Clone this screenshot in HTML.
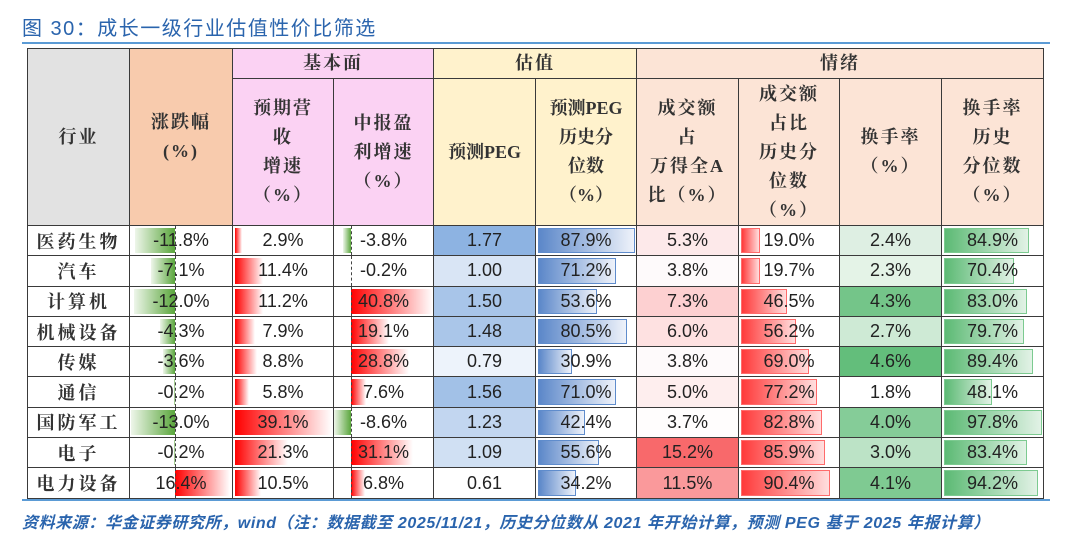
<!DOCTYPE html>
<html><head><meta charset="utf-8">
<style>
body{margin:0;width:1080px;height:551px;background:#fff;position:relative;overflow:hidden;font-family:"Liberation Sans","Noto Sans CJK SC",sans-serif;}
.title{position:absolute;left:22px;top:12px;font-size:20px;color:#2a64ad;font-family:"Liberation Sans","Noto Sans CJK SC",sans-serif;letter-spacing:1.5px;}
.hl{position:absolute;left:22px;width:1028px;height:2px;background:#5b9bd5;}
table{position:absolute;left:27px;top:48px;border-collapse:collapse;table-layout:fixed;}
td{border:1px solid #3a3a3a;padding:0;text-align:center;vertical-align:middle;position:relative;color:#222;}
.h{font-family:"Liberation Serif","Noto Serif CJK SC",serif;font-size:18px;font-weight:bold;line-height:29px;letter-spacing:2px;color:#333;}
.r td{height:29.3px;font-size:18px;}
.n{font-family:"Liberation Serif","Noto Serif CJK SC",serif;font-size:18px;font-weight:bold;letter-spacing:3px;color:#333;}
.b{position:absolute;top:2px;bottom:2px;}
.g{background:linear-gradient(to right,#eef6ea,#5aa63c);}
.rd{background:linear-gradient(to right,#ff0000,#fff);}
.bl{background:linear-gradient(to right,#5b87c9,#eef2fa);border:1px solid #5f8ccc;box-sizing:border-box;}
.rr{background:linear-gradient(to right,#ff3a3a,#ffdede);border:1px solid #ff6b6b;box-sizing:border-box;}
.gg{background:linear-gradient(to right,#5cba74,#e2f2e6);border:1px solid #7cca90;box-sizing:border-box;}
.ax{position:absolute;top:0;bottom:0;border-left:1px dashed #444;}
.t{position:relative;}
.foot{position:absolute;left:22px;top:509px;width:1040px;white-space:nowrap;overflow:hidden;font-size:16px;font-weight:bold;font-style:italic;letter-spacing:0.6px;color:#2a64ad;}
</style></head><body>
<div class="title">图 30：成长一级行业估值性价比筛选</div>
<div class="hl" style="top:42px"></div>
<table>
<colgroup><col style="width:102px"><col style="width:103px"><col style="width:101px"><col style="width:100px"><col style="width:102px"><col style="width:101px"><col style="width:102px"><col style="width:101px"><col style="width:102px"><col style="width:102px"></colgroup>
<tr><td class="h" rowspan="2" style="background:#e2e2e2">行业</td><td class="h" rowspan="2" style="background:#f8cbad">涨跌幅<br>(%)</td><td class="h" colspan="2" style="background:#fbd2f3;height:28px">基本面</td><td class="h" colspan="2" style="background:#fff2cc">估值</td><td class="h" colspan="4" style="background:#fce4d6">情绪</td></tr>
<tr style="height:147px"><td class="h" style="background:#fbd2f3">预期营<br>收<br>增速<br>（%）</td><td class="h" style="background:#fbd2f3">中报盈<br>利增速<br>（%）</td><td class="h" style="background:#fff2cc;letter-spacing:0">预测PEG</td><td class="h" style="background:#fff2cc;letter-spacing:0">预测PEG<br>历史分<br>位数<br>（%）</td><td class="h" style="background:#fce4d6">成交额<br>占<br>万得全A<br>比（%）</td><td class="h" style="background:#fce4d6">成交额<br>占比<br>历史分<br>位数<br>（%）</td><td class="h" style="background:#fce4d6">换手率<br>（%）</td><td class="h" style="background:#fce4d6">换手率<br>历史<br>分位数<br>（%）</td></tr>

<tr class="r"><td class="n">医药生物</td><td><div class="b g" style="left:5px;width:40px"></div><div class="ax" style="left:45px"></div><span class="t">-11.8%</span></td><td><div class="b rd" style="left:2px;width:7px"></div><span class="t">2.9%</span></td><td><div class="b g" style="left:9px;width:8px"></div><div class="ax" style="left:17px"></div><span class="t">-3.8%</span></td><td style="background:#8db3e2">1.77</td><td><div class="b bl" style="left:2px;width:97px"></div><span class="t">87.9%</span></td><td style="background:#fde9ea">5.3%</td><td><div class="b rr" style="left:2px;width:19px"></div><span class="t">19.0%</span></td><td style="background:#deefe3">2.4%</td><td><div class="b gg" style="left:2px;width:85px"></div><span class="t">84.9%</span></td></tr>

<tr class="r"><td class="n">汽车</td><td><div class="b g" style="left:21px;width:24px"></div><div class="ax" style="left:45px"></div><span class="t">-7.1%</span></td><td><div class="b rd" style="left:2px;width:28px"></div><span class="t">11.4%</span></td><td><div class="ax" style="left:17px"></div><span class="t">-0.2%</span></td><td style="background:#d9e5f5">1.00</td><td><div class="b bl" style="left:2px;width:78px"></div><span class="t">71.2%</span></td><td style="background:#fefafb">3.8%</td><td><div class="b rr" style="left:2px;width:19px"></div><span class="t">19.7%</span></td><td style="background:#e4f3e7">2.3%</td><td><div class="b gg" style="left:2px;width:70px"></div><span class="t">70.4%</span></td></tr>

<tr class="r"><td class="n">计算机</td><td><div class="b g" style="left:4px;width:41px"></div><div class="ax" style="left:45px"></div><span class="t">-12.0%</span></td><td><div class="b rd" style="left:2px;width:28px"></div><span class="t">11.2%</span></td><td><div class="b rd" style="left:17px;width:82px"></div><div class="ax" style="left:17px"></div><span class="t">40.8%</span></td><td style="background:#a8c5e9">1.50</td><td><div class="b bl" style="left:2px;width:59px"></div><span class="t">53.6%</span></td><td style="background:#fdd0d1">7.3%</td><td><div class="b rr" style="left:2px;width:46px"></div><span class="t">46.5%</span></td><td style="background:#74c589">4.3%</td><td><div class="b gg" style="left:2px;width:83px"></div><span class="t">83.0%</span></td></tr>

<tr class="r"><td class="n">机械设备</td><td><div class="b g" style="left:30px;width:15px"></div><div class="ax" style="left:45px"></div><span class="t">-4.3%</span></td><td><div class="b rd" style="left:2px;width:20px"></div><span class="t">7.9%</span></td><td><div class="b rd" style="left:17px;width:38px"></div><div class="ax" style="left:17px"></div><span class="t">19.1%</span></td><td style="background:#aac6e9">1.48</td><td><div class="b bl" style="left:2px;width:89px"></div><span class="t">80.5%</span></td><td style="background:#fee1e1">6.0%</td><td><div class="b rr" style="left:2px;width:55px"></div><span class="t">56.2%</span></td><td style="background:#ceead5">2.7%</td><td><div class="b gg" style="left:2px;width:80px"></div><span class="t">79.7%</span></td></tr>

<tr class="r"><td class="n">传媒</td><td><div class="b g" style="left:33px;width:12px"></div><div class="ax" style="left:45px"></div><span class="t">-3.6%</span></td><td><div class="b rd" style="left:2px;width:22px"></div><span class="t">8.8%</span></td><td><div class="b rd" style="left:17px;width:58px"></div><div class="ax" style="left:17px"></div><span class="t">28.8%</span></td><td style="background:#edf3fb">0.79</td><td><div class="b bl" style="left:2px;width:34px"></div><span class="t">30.9%</span></td><td style="background:#fefafb">3.8%</td><td><div class="b rr" style="left:2px;width:68px"></div><span class="t">69.0%</span></td><td style="background:#63be7b">4.6%</td><td><div class="b gg" style="left:2px;width:89px"></div><span class="t">89.4%</span></td></tr>

<tr class="r"><td class="n">通信</td><td><div class="b g" style="left:44px;width:1px"></div><div class="ax" style="left:45px"></div><span class="t">-0.2%</span></td><td><div class="b rd" style="left:2px;width:14px"></div><span class="t">5.8%</span></td><td><div class="b rd" style="left:17px;width:15px"></div><div class="ax" style="left:17px"></div><span class="t">7.6%</span></td><td style="background:#a2c1e7">1.56</td><td><div class="b bl" style="left:2px;width:78px"></div><span class="t">71.0%</span></td><td style="background:#feeeee">5.0%</td><td><div class="b rr" style="left:2px;width:76px"></div><span class="t">77.2%</span></td><td>1.8%</td><td><div class="b gg" style="left:2px;width:48px"></div><span class="t">48.1%</span></td></tr>

<tr class="r"><td class="n">国防军工</td><td><div class="b g" style="left:1px;width:44px"></div><div class="ax" style="left:45px"></div><span class="t">-13.0%</span></td><td><div class="b rd" style="left:2px;width:97px"></div><span class="t">39.1%</span></td><td><div class="b g" style="left:0px;width:17px"></div><div class="ax" style="left:17px"></div><span class="t">-8.6%</span></td><td style="background:#c2d6f0">1.23</td><td><div class="b bl" style="left:2px;width:47px"></div><span class="t">42.4%</span></td><td style="background:#fffdfd">3.7%</td><td><div class="b rr" style="left:2px;width:81px"></div><span class="t">82.8%</span></td><td style="background:#85cc98">4.0%</td><td><div class="b gg" style="left:2px;width:98px"></div><span class="t">97.8%</span></td></tr>

<tr class="r"><td class="n">电子</td><td><div class="b g" style="left:44px;width:1px"></div><div class="ax" style="left:45px"></div><span class="t">-0.2%</span></td><td><div class="b rd" style="left:2px;width:53px"></div><span class="t">21.3%</span></td><td><div class="b rd" style="left:17px;width:62px"></div><div class="ax" style="left:17px"></div><span class="t">31.1%</span></td><td style="background:#d0e0f3">1.09</td><td><div class="b bl" style="left:2px;width:61px"></div><span class="t">55.6%</span></td><td style="background:#f8696b">15.2%</td><td><div class="b rr" style="left:2px;width:84px"></div><span class="t">85.9%</span></td><td style="background:#bce3c6">3.0%</td><td><div class="b gg" style="left:2px;width:83px"></div><span class="t">83.4%</span></td></tr>

<tr class="r"><td class="n">电力设备</td><td><div class="b rd" style="left:45px;width:55px"></div><div class="ax" style="left:45px"></div><span class="t">16.4%</span></td><td><div class="b rd" style="left:2px;width:26px"></div><span class="t">10.5%</span></td><td><div class="b rd" style="left:17px;width:14px"></div><div class="ax" style="left:17px"></div><span class="t">6.8%</span></td><td>0.61</td><td><div class="b bl" style="left:2px;width:38px"></div><span class="t">34.2%</span></td><td style="background:#fa999b">11.5%</td><td><div class="b rr" style="left:2px;width:89px"></div><span class="t">90.4%</span></td><td style="background:#7fca92">4.1%</td><td><div class="b gg" style="left:2px;width:94px"></div><span class="t">94.2%</span></td></tr>
</table>
<div class="hl" style="top:499px"></div>
<div class="foot">资料来源：华金证券研究所，wind（注：数据截至 2025/11/21，历史分位数从 2021 年开始计算，预测 PEG 基于 2025 年报计算）</div>
</body></html>
